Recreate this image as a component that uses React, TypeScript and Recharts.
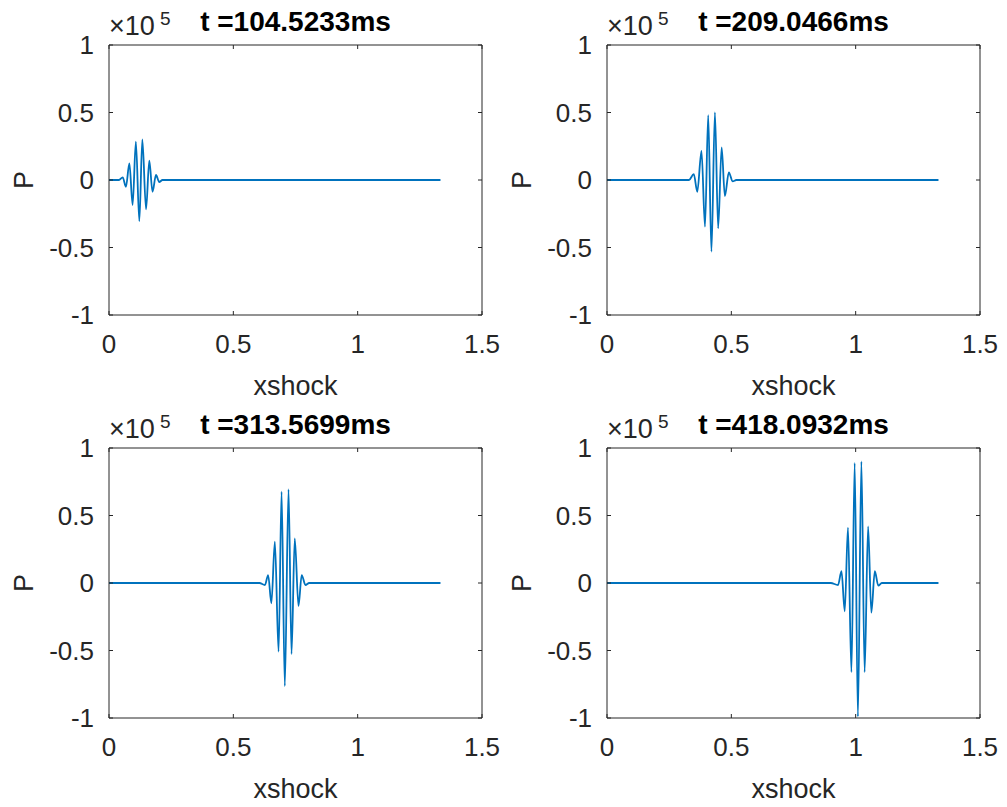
import React from 'react';
import { LineChart, Line, XAxis, YAxis } from 'recharts';

// ---- data (pressure P in units of 1e5, vs xshock) ----
const titles = ['t =104.5233ms', 't =209.0466ms', 't =313.5699ms', 't =418.0932ms'];
const xLabel = 'xshock';
const yLabel = 'P';
const xTicks = [0, 0.5, 1, 1.5];
const yTicks = [-1, -0.5, 0, 0.5, 1];

const xs1 = [0, 0.04, 0.055, 0.068, 0.082, 0.095, 0.108, 0.122, 0.134, 0.149, 0.162, 0.175, 0.189, 0.202, 0.215, 1.333];
const ps1 = [0, 0, 0.02, -0.05, 0.123, -0.185, 0.284, -0.305, 0.3, -0.217, 0.143, -0.087, 0.037, -0.015, 0, 0];

const xs2 = [0, 0.33, 0.349, 0.363, 0.38, 0.394, 0.407, 0.42, 0.434, 0.447, 0.461, 0.474, 0.49, 0.505, 0.52, 1.333];
const ps2 = [0, 0, 0.044, -0.087, 0.215, -0.346, 0.48, -0.53, 0.5, -0.358, 0.242, -0.119, 0.057, -0.01, 0, 0];

const xs3 = [0, 0.605, 0.627, 0.64, 0.653, 0.667, 0.682, 0.694, 0.707, 0.722, 0.734, 0.747, 0.762, 0.775, 0.79, 0.805, 1.333];
const ps3 = [0, 0, -0.015, 0.059, -0.15, 0.306, -0.509, 0.676, -0.763, 0.694, -0.526, 0.331, -0.17, 0.059, -0.015, 0, 0];

const xs4 = [0, 0.9, 0.929, 0.943, 0.956, 0.969, 0.983, 0.996, 1.009, 1.023, 1.036, 1.05, 1.063, 1.077, 1.091, 1.105, 1.333];
const ps4 = [0, 0, -0.015, 0.087, -0.21, 0.41, -0.66, 0.89, -0.99, 0.9, -0.66, 0.42, -0.22, 0.087, -0.02, 0, 0];

const series = [
  { xs: xs1, ps: ps1 },
  { xs: xs2, ps: ps2 },
  { xs: xs3, ps: ps3 },
  { xs: xs4, ps: ps4 },
];

const AX = '#262626';
const FONT = '"Liberation Sans", Arial, Helvetica, sans-serif';
const LINE = '#0072BD';
const STEP_X = 498;
const STEP_Y = 403;
const W = 508; // a little wider than the step so the "1.5" tick label is not clipped
const H = 403;
// plot box: x 109..482, y 45..315 inside each panel
const M = { top: 44, right: W - 482 - 1, bottom: 87, left: 108 };
const PL = 109, PR = 482, PT = 45, PB = 315;

function Panel({ idx }: { idx: number }) {
  const { xs, ps } = series[idx];
  const data = xs.map((x, i) => ({ x, p: ps[i] }));
  const col = idx % 2;
  const row = Math.floor(idx / 2);
  const cx = (PL + PR) / 2;
  const cy = (PT + PB) / 2;
  const tickStyle = { fill: AX, fontSize: 26, fontFamily: FONT };
  return (
    <div style={{ position: 'absolute', left: col * STEP_X, top: row * STEP_Y }}>
      <LineChart width={W} height={H} data={data} margin={M}>
        <XAxis
          xAxisId="b"
          dataKey="x"
          type="number"
          domain={[0, 1.5]}
          ticks={xTicks}
          interval={0}
          orientation="bottom"
          height={1}
          tickSize={-4}
          tickMargin={24}
          allowDataOverflow
          axisLine={{ stroke: AX, strokeWidth: 1 }}
          tickLine={{ stroke: AX }}
          tick={tickStyle}
        />
        <XAxis
          xAxisId="t"
          dataKey="x"
          type="number"
          domain={[0, 1.5]}
          ticks={xTicks}
          interval={0}
          orientation="top"
          height={1}
          tickSize={-4}
          allowDataOverflow
          axisLine={{ stroke: AX, strokeWidth: 1 }}
          tickLine={{ stroke: AX }}
          tickFormatter={() => ''}
        />
        <YAxis
          yAxisId="l"
          type="number"
          domain={[-1, 1]}
          ticks={yTicks}
          interval={0}
          orientation="left"
          width={1}
          tickSize={-4}
          tickMargin={19}
          allowDataOverflow
          axisLine={{ stroke: AX, strokeWidth: 1 }}
          tickLine={{ stroke: AX }}
          tick={tickStyle}
        />
        <YAxis
          yAxisId="r"
          type="number"
          domain={[-1, 1]}
          ticks={yTicks}
          interval={0}
          orientation="right"
          width={1}
          tickSize={-4}
          allowDataOverflow
          axisLine={{ stroke: AX, strokeWidth: 1 }}
          tickLine={{ stroke: AX }}
          tickFormatter={() => ''}
        />
        <Line
          xAxisId="b"
          yAxisId="l"
          type="monotone"
          dataKey="p"
          stroke={LINE}
          strokeWidth={1.8}
          dot={false}
          isAnimationActive={false}
        />
        <text x={cx} y={30.5} textAnchor="middle" fontFamily={FONT} fontWeight="bold" fontSize={28} fill="#000">
          {titles[idx]}
        </text>
        <text x={109} y={35} fontFamily={FONT} fontSize={27} fill={AX}>
          ×10
        </text>
        <text x={160} y={25} fontFamily={FONT} fontSize={19} fill={AX}>
          5
        </text>
        <text x={cx} y={395} textAnchor="middle" fontFamily={FONT} fontSize={27} fill={AX}>
          {xLabel}
        </text>
        <text x={33} y={cy} textAnchor="middle" transform={`rotate(-90, 33, ${cy})`} fontFamily={FONT} fontSize={27} fill={AX}>
          {yLabel}
        </text>
      </LineChart>
    </div>
  );
}

export default function App() {
  return (
    <div style={{ position: 'absolute', left: 0, top: 0, width: 1007, height: 807, background: '#fff', overflow: 'hidden' }}>
      {[0, 1, 2, 3].map((i) => (
        <Panel key={i} idx={i} />
      ))}
    </div>
  );
}
